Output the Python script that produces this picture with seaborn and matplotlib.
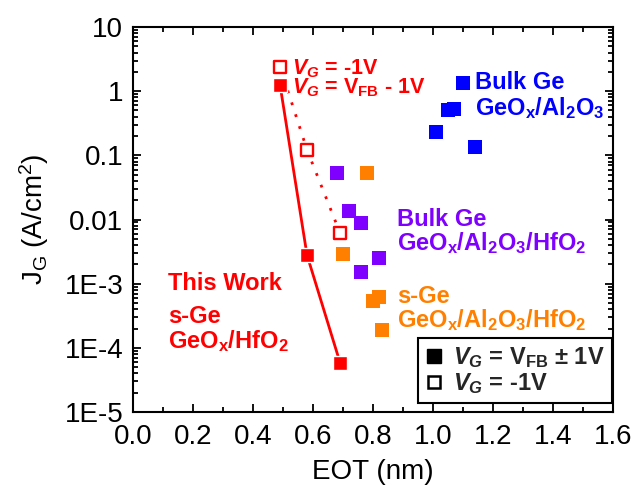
import numpy as np
import pandas as pd
import matplotlib
matplotlib.use("Agg")
import matplotlib.pyplot as plt
import seaborn as sns
from matplotlib.lines import Line2D
from matplotlib.ticker import FixedLocator, FixedFormatter, LogLocator, NullFormatter, MultipleLocator

# ---------------- data ----------------
this_work_fill_eot = [0.49, 0.58, 0.69]
this_work_fill_jg = [1.26, 0.0028, 5.9e-5]
this_work_open_eot = [0.49, 0.58, 0.69]
this_work_open_jg = [2.4, 0.122, 0.0062]

bulk_al_eot = [1.10, 1.07, 1.05, 1.01, 1.14]
bulk_al_jg = [1.33, 0.53, 0.50, 0.234, 0.134]

bulk_hf_eot = [0.68, 0.72, 0.76, 0.82, 0.76]
bulk_hf_jg = [0.0526, 0.0138, 0.0088, 0.00255, 0.00151]

sge_hf_eot = [0.78, 0.70, 0.82, 0.80, 0.83]
sge_hf_jg = [0.0526, 0.0029, 6.3e-4, 5.3e-4, 1.9e-4]

x_ticks = [0.0, 0.2, 0.4, 0.6, 0.8, 1.0, 1.2, 1.4, 1.6]
x_ticklabels = ["0.0", "0.2", "0.4", "0.6", "0.8", "1.0", "1.2", "1.4", "1.6"]
y_ticks = [1e-5, 1e-4, 1e-3, 1e-2, 1e-1, 1, 10]
y_ticklabels = ["1E-5", "1E-4", "1E-3", "0.01", "0.1", "1", "10"]

RED = "#FF0000"
BLUE = "#0000FF"
PURPLE = "#8000FF"
ORANGE = "#FF8000"

# ---------------- style ----------------
sns.set_theme(style="ticks")
plt.rcParams["font.family"] = ["Liberation Sans", "DejaVu Sans"]
plt.rcParams["mathtext.fontset"] = "custom"
plt.rcParams["mathtext.rm"] = "Liberation Sans"
plt.rcParams["mathtext.bf"] = "Liberation Sans:bold"
plt.rcParams["mathtext.it"] = "Liberation Sans:bold:italic"
plt.rcParams["mathtext.sf"] = "Liberation Sans"

fig = plt.figure(figsize=(6.36, 4.87), dpi=100)
ax = fig.add_axes([133 / 636, 75 / 487, 480 / 636, 385 / 487])

# lines
sns.lineplot(x=this_work_fill_eot, y=this_work_fill_jg, ax=ax, color=RED, lw=2.0,
             sort=False, estimator=None, zorder=2)
sns.lineplot(x=this_work_open_eot, y=this_work_open_jg, ax=ax, color=RED, lw=2.0,
             linestyle=(0, (1, 3.5)), sort=False, estimator=None, zorder=2)

ms = 105
sns.scatterplot(x=bulk_al_eot, y=bulk_al_jg, ax=ax, marker="s", s=ms, color=BLUE,
                linewidth=0, zorder=3)
sns.scatterplot(x=bulk_hf_eot, y=bulk_hf_jg, ax=ax, marker="s", s=ms, color=PURPLE,
                linewidth=0, zorder=3)
sns.scatterplot(x=sge_hf_eot, y=sge_hf_jg, ax=ax, marker="s", s=ms, color=ORANGE,
                linewidth=0, zorder=3)
sns.scatterplot(x=this_work_open_eot, y=this_work_open_jg, ax=ax, marker="s", s=66,
                facecolor="white", edgecolor=RED, linewidth=1.7, zorder=4)
sns.scatterplot(x=this_work_fill_eot, y=this_work_fill_jg, ax=ax, marker="s", s=ms,
                color=RED, edgecolor="white", linewidth=1.0, zorder=5)

ax.set_yscale("log")
ax.set_xlim(0, 1.6)
ax.set_ylim(1e-5, 10)

ax.xaxis.set_major_locator(FixedLocator(x_ticks))
ax.xaxis.set_major_formatter(FixedFormatter(x_ticklabels))
ax.xaxis.set_minor_locator(MultipleLocator(0.1))
ax.yaxis.set_major_locator(FixedLocator(y_ticks))
ax.yaxis.set_major_formatter(FixedFormatter(y_ticklabels))
ax.yaxis.set_minor_locator(LogLocator(base=10, subs=np.arange(2, 10), numticks=20))
ax.yaxis.set_minor_formatter(NullFormatter())

ax.tick_params(which="both", direction="in", top=True, right=True, color="black", width=1.3)
ax.tick_params(which="major", length=6, labelsize=20, labelcolor="black")
ax.tick_params(axis="y", which="major", pad=7)
ax.tick_params(axis="x", which="major", pad=9)
ax.tick_params(which="minor", length=3.5)
for s in ax.spines.values():
    s.set_color("black")
    s.set_linewidth(1.5)

ax.set_xlabel("EOT (nm)", fontsize=20, color="black", labelpad=6)
ax.set_ylabel(r"J$_\mathrm{G}$ (A/cm$^\mathrm{2}$)", fontsize=20, color="black", labelpad=10)

# annotations
def px(xp, yp):
    return ((xp - 133) / 480, (412 - yp) / 385)

fs = 17
def note(xp, yp, s, c, size=fs):
    fx, fy = px(xp, yp)
    ax.text(fx, fy, s, transform=ax.transAxes, color=c, fontsize=size, fontweight="bold",
            ha="left", va="baseline")

note(292, 74, r"$\mathit{V_G}$ = -1V", RED, 15.5)
note(292, 93, r"$\mathit{V_G}$ = V$_\mathbf{FB}$ - 1V", RED, 15.5)
note(475, 89, "Bulk Ge", BLUE)
note(475, 115, r"GeO$_\mathbf{x}$/Al$_\mathbf{2}$O$_\mathbf{3}$", BLUE)
note(397, 226, "Bulk Ge", PURPLE)
note(397, 250, r"GeO$_\mathbf{x}$/Al$_\mathbf{2}$O$_\mathbf{3}$/HfO$_\mathbf{2}$", PURPLE)
note(397, 303, "s-Ge", ORANGE)
note(397, 327, r"GeO$_\mathbf{x}$/Al$_\mathbf{2}$O$_\mathbf{3}$/HfO$_\mathbf{2}$", ORANGE)
note(168, 290, "This Work", RED)
note(168, 323, "s-Ge", RED)
note(168, 348, r"GeO$_\mathbf{x}$/HfO$_\mathbf{2}$", RED)

handles = [
    Line2D([], [], marker="s", linestyle="none", markersize=9.5, markerfacecolor="black",
           markeredgecolor="black"),
    Line2D([], [], marker="s", linestyle="none", markersize=8.5, markerfacecolor="white",
           markeredgecolor="black", markeredgewidth=1.8),
]
labels = [r"$\mathit{V_G}$ = V$_\mathbf{FB}$ ± 1V", r"$\mathit{V_G}$ = -1V"]
leg = ax.legend(handles, labels, loc="lower right", bbox_to_anchor=(0.998, 9 / 385),
                borderaxespad=0, frameon=True, fancybox=False, handlelength=0.8,
                handletextpad=0.4, labelspacing=0.05, borderpad=0.3,
                prop={"weight": "bold", "size": 17})
leg.get_frame().set_edgecolor("black")
leg.get_frame().set_linewidth(1.5)
leg.get_frame().set_alpha(1)

fig.savefig("out.png", dpi=100)
